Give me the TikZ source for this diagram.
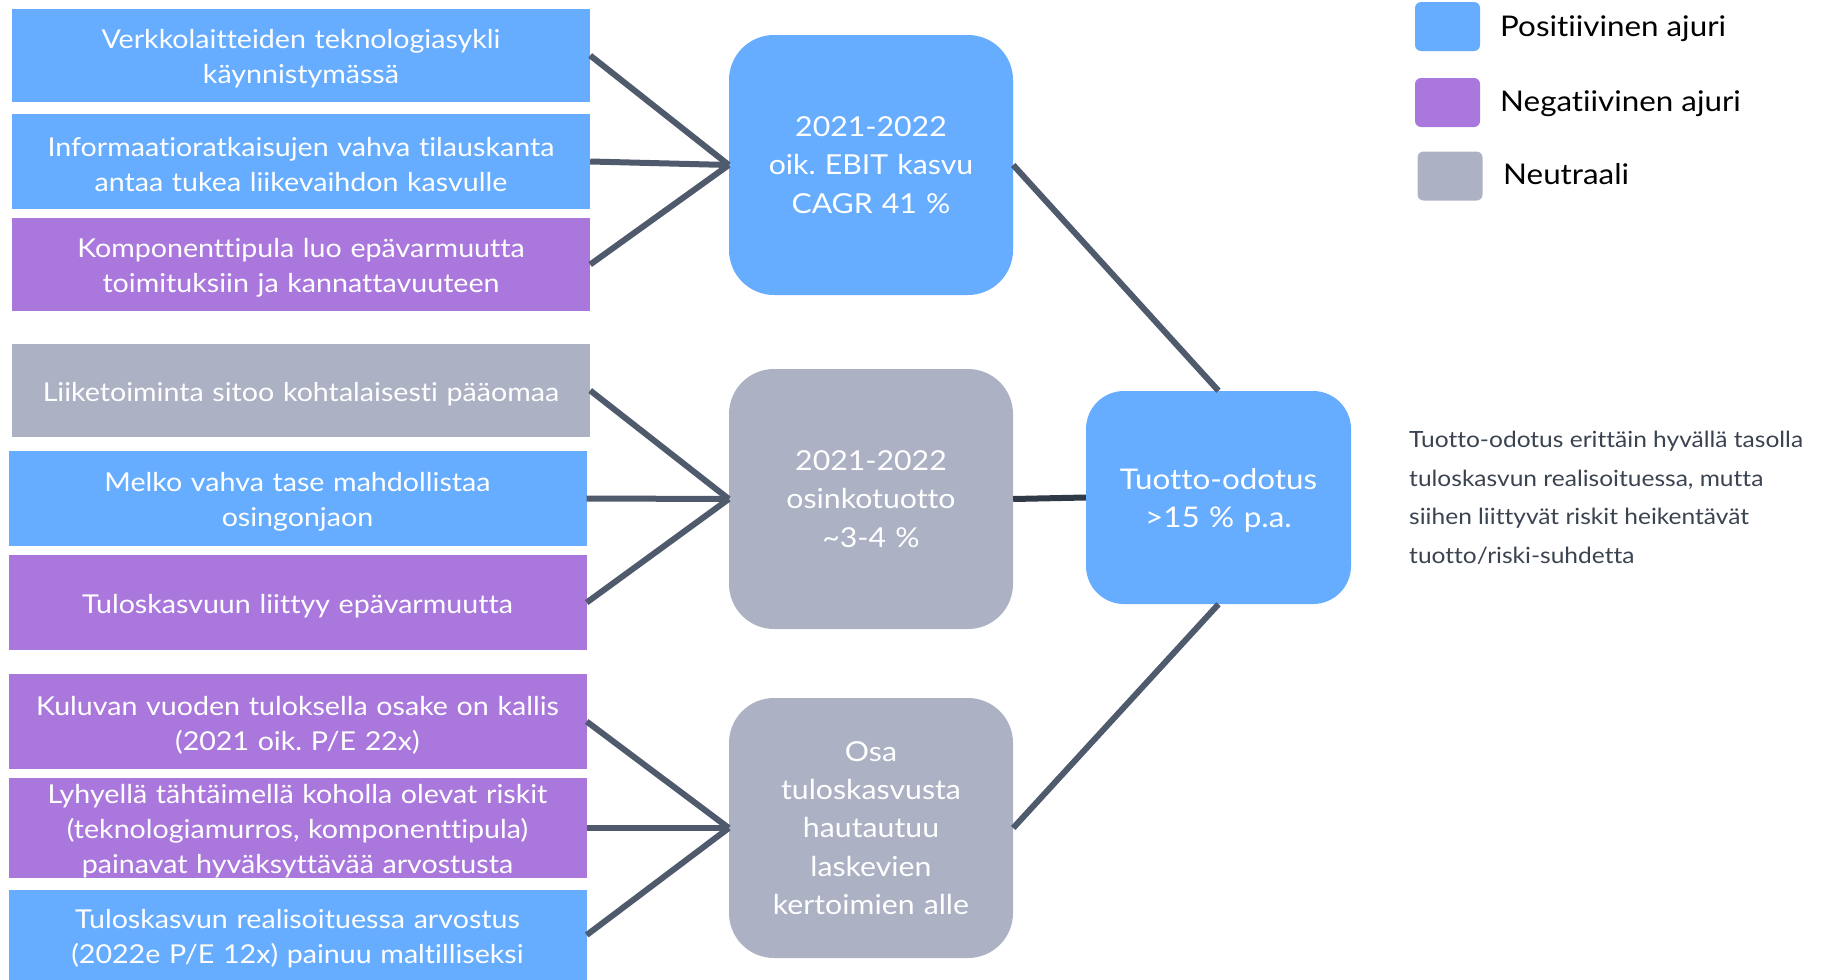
\documentclass[tikz,border=0pt]{standalone}
\usepackage{fontspec}
\setmainfont{Lato}[FakeStretch=1.1, Ligatures=NoCommon]
\definecolor{posblue}{HTML}{66ADFF}
\definecolor{negpurple}{HTML}{AA78DD}
\definecolor{neutgray}{HTML}{ACB2C4}
\definecolor{linecol}{HTML}{4F5B6C}
\definecolor{linedark}{HTML}{2F3A46}
\definecolor{txtdark}{HTML}{3A4350}
\tikzset{
  drv/.style={minimum width=578pt, inner sep=0pt, text width=570pt, align=center, text=white, font=\fontsize{26}{35}\selectfont, text height=26pt},
  midbox/.style={rounded corners=45pt, minimum width=284pt, minimum height=260pt, inner sep=0pt, text width=270pt, align=center, text=white, font=\fontsize{27.5}{38.3}\selectfont},
  conn/.style={draw=linecol, line width=6pt},
  legsq/.style={rounded corners=6pt, minimum width=65pt, minimum height=49pt, inner sep=0pt},
  legtxt/.style={anchor=west, inner sep=0pt, font=\fontsize{28.5}{32}\selectfont, text=black}
}
\begin{document}
\frenchspacing
\begin{tikzpicture}[x=1pt,y=-1pt]
\useasboundingbox (0,0) rectangle (1821,980);
% left driver boxes
\node[drv, fill=posblue, minimum height=93pt] (b1) at (301,55.5) {Verkkolaitteiden teknologiasykli\\käynnistymässä};
\node[drv, fill=posblue, minimum height=95pt] (b2) at (301,161.5) {Informaatioratkaisujen vahva tilauskanta\\antaa tukea liikevaihdon kasvulle};
\node[drv, fill=negpurple, minimum height=93pt] (b3) at (301,264.5) {Komponenttipula luo epävarmuutta\\toimituksiin ja kannattavuuteen};
\node[drv, fill=neutgray, minimum height=93pt] (b4) at (301,390.5) {Liiketoiminta sitoo kohtalaisesti pääomaa};
\node[drv, fill=posblue, minimum height=95pt] (b5) at (297.5,498.5) {Melko vahva tase mahdollistaa\\osingonjaon};
\node[drv, fill=negpurple, minimum height=95pt] (b6) at (297.5,602.5) {Tuloskasvuun liittyy epävarmuutta};
\node[drv, fill=negpurple, minimum height=95pt] (b7) at (297.5,721.5) {Kuluvan vuoden tuloksella osake on kallis\\(2021 oik. P/E 22x)};
\node[drv, fill=negpurple, minimum height=96pt] (b8) at (297.5,828) {Lyhyellä tähtäimellä koholla olevat riskit\\(teknologiamurros, komponenttipula)\\painavat hyväksyttävää arvostusta};
\node[drv, fill=posblue, minimum height=90pt] (b9) at (297.5,935) {Tuloskasvun realisoituessa arvostus\\(2022e P/E 12x) painuu maltilliseksi};
% middle boxes
\node[midbox, fill=posblue] (m1) at (871,165) {2021-2022\\oik. EBIT kasvu\\CAGR 41 \%};
\node[midbox, fill=neutgray] (m2) at (871,499) {2021-2022\\osinkotuotto\\\textasciitilde3-4 \%};
\node[midbox, fill=neutgray] (m3) at (871,828) {Osa\\tuloskasvusta\\hautautuu\\laskevien\\kertoimien alle};
% result box
\node[midbox, fill=posblue, rounded corners=38pt, minimum width=265pt, minimum height=213pt, text width=255pt, font=\fontsize{28.5}{38.3}\selectfont, text height=27.5pt] (t) at (1218.5,497.5) {Tuotto-odotus\\>15 \% p.a.};
% connectors
\draw[conn] (b1.east) -- (m1.west);
\draw[conn] (b2.east) -- (m1.west);
\draw[conn] (b3.east) -- (m1.west);
\draw[conn] (b4.east) -- (m2.west);
\draw[conn] (b5.east) -- (m2.west);
\draw[conn] (b6.east) -- (m2.west);
\draw[conn] (b7.east) -- (m3.west);
\draw[conn] (b8.east) -- (m3.west);
\draw[conn] (b9.east) -- (m3.west);
\draw[conn] (m1.east) -- (t.north);
\draw[conn, draw=linedark] (m2.east) -- (t.west);
\draw[conn] (m3.east) -- (t.south);
% legend
\node[legsq, fill=posblue] (l1) at (1447.5,26.5) {};
\node[legsq, fill=negpurple] (l2) at (1447.5,102.5) {};
\node[legsq, fill=neutgray] (l3) at (1450,176) {};
\node[legtxt] (lt1) at (1500,29) {Positiivinen ajuri};
\node[legtxt] (lt2) at (1500,104) {Negatiivinen ajuri};
\node[legtxt] (lt3) at (1503,174) {Neutraali};
% comment
\node[anchor=north west, inner sep=0pt, align=left, text=txtdark, font=\fontsize{22.3}{38.5}\selectfont] (c) at (1409,431) {Tuotto-odotus erittäin hyvällä tasolla\\tuloskasvun realisoituessa, mutta\\siihen liittyvät riskit heikentävät\\tuotto/riski-suhdetta};
\end{tikzpicture}
\end{document}
